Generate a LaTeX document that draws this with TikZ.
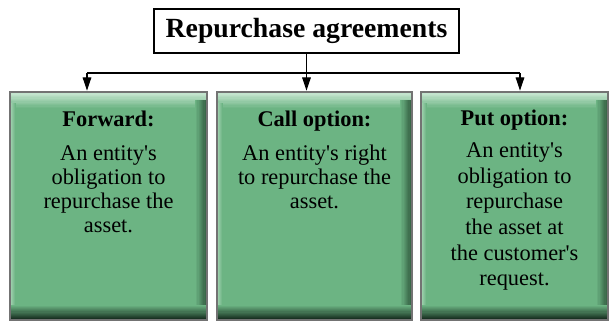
\documentclass[tikz,border=0pt]{standalone}
\usepackage{fontspec}
\setmainfont{Liberation Serif}
\usetikzlibrary{positioning,arrows.meta}
\definecolor{cardbase}{RGB}{108,180,131}
\definecolor{cardlight}{RGB}{204,233,213}
\definecolor{carddark}{RGB}{16,36,24}
\definecolor{cardside}{RGB}{38,74,50}
\tikzset{
  every picture/.style={line width=0.8pt},
  titlebox/.style={draw=black,fill=white,line width=0.9pt,minimum width=228.75pt,minimum height=33pt,
    inner sep=0pt,font=\fontsize{20.8}{24}\selectfont\bfseries},
  card/.style={draw=black!55,line width=2pt,fill=cardbase,minimum height=171pt,inner sep=0pt,
    path picture={
      \coordinate (nw) at (path picture bounding box.north west);
      \coordinate (ne) at (path picture bounding box.north east);
      \coordinate (sw) at (path picture bounding box.south west);
      \coordinate (se) at (path picture bounding box.south east);
      % light top edge
      \foreach \k in {0,...,11}{
        \pgfmathtruncatemacro\p{100-\k*8.5}
        \fill[cardlight!\p!cardbase] ([yshift={-\k*1pt}]nw) rectangle ([yshift={-(\k+1.05)*1pt}]ne);
      }
      % light left edge
      \foreach \k in {0,...,5}{
        \pgfmathtruncatemacro\p{60-\k*12}
        \fill[cardlight!\p!cardbase] ([xshift={\k*0.75pt},yshift={-8pt}]nw) rectangle ([xshift={(\k+1.05)*0.75pt}]sw);
      }
      % dark right edge
      \foreach \k in {0,...,9}{
        \pgfmathtruncatemacro\p{\k*9}
        \fill[cardside!\p!cardbase] ([xshift={-(10-\k)*0.9pt},yshift={-6pt}]ne) rectangle ([xshift={-(9-\k)*0.9pt+0.05pt}]se);
      }
      % dark bottom edge
      \foreach \k in {0,...,13}{
        \pgfmathtruncatemacro\p{\k*7.5}
        \fill[carddark!\p!cardbase] ([yshift={(14-\k)*0.8pt}]sw) rectangle ([yshift={(13-\k)*0.8pt-0.05pt}]se);
      }
    }},
  cardtext/.style={align=center,inner sep=0pt,font=\fontsize{16.8}{18}\selectfont},
  tip/.style={-{Triangle[length=10pt,width=6.5pt]}}
}

\begin{document}
\begin{tikzpicture}[x=0.75pt,y=0.75pt]
\useasboundingbox (0,0) rectangle (611,-322);
\node[titlebox] (title) at (306.5,-31) {Repurchase agreements};
% the three cards
\node[card,minimum width=147.75pt] (fwd) at (108.5,-206) {};
\node[card,minimum width=146.25pt] (call) at (314.5,-206) {};
\node[card,minimum width=140.25pt] (put) at (514.5,-206) {};
\node[cardtext,below=15pt of fwd.north] (fwdtxt)
  {\textbf{Forward:}\\[7pt] An entity\textquotesingle s\\ obligation to\\ repurchase the\\ asset.};
\node[cardtext,below=15pt of call.north] (calltxt)
  {\textbf{Call option:}\\[7pt] An entity\textquotesingle s right\\ to repurchase the\\ asset.};
\node[cardtext,font=\fontsize{16.8}{19.2}\selectfont,below=14pt of put.north] (puttxt)
  {\textbf{Put option:}\\[5pt] An entity\textquotesingle s\\ obligation to\\ repurchase\\ the asset at\\ the customer\textquotesingle s\\ request.};
% connectors
\coordinate (jl) at (87,-73);
\coordinate (jr) at (520,-73);
\draw (jl) -- (jr);
\draw[tip] (title.south) -- (title.south |- call.north);
\draw[tip] (jl) -- (jl |- fwd.north);
\draw[tip] (jr) -- (jr |- put.north);
\end{tikzpicture}
\end{document}
